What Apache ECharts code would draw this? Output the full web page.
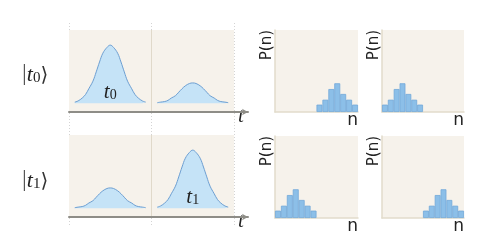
<!DOCTYPE html>
<html>
<head>
<meta charset="utf-8">
<script src="https://cdn.jsdelivr.net/npm/echarts@6/dist/echarts.min.js"></script>
<style>html,body{margin:0;padding:0;background:#fff}#c{width:498px;height:250px}</style>
</head>
<body>
<div id="c"></div>
<script>
// ---- data ----
var bins = ['0','1','2','3','4','5','6','7','8','9','10','11','12','13'];
var histTopLeft     = [null,null,null,null,null,null,null,0.09,0.15,0.28,0.35,0.22,0.15,0.09];
var histTopRight    = [0.09,0.15,0.28,0.35,0.22,0.15,0.09,null,null,null,null,null,null,null];
var histBottomLeft  = [0.09,0.15,0.28,0.35,0.22,0.15,0.09,null,null,null,null,null,null,null];
var histBottomRight = [null,null,null,null,null,null,null,0.09,0.15,0.28,0.35,0.22,0.15,0.09];

var tFirst  = [0.07,0.11,0.16,0.2,0.24,0.29,0.33,0.37,0.41,0.46,0.5,0.54,0.59,0.63,0.67,0.71,0.76,0.8,0.84,0.89,0.93];
var tSecond = [1.07,1.11,1.16,1.2,1.24,1.29,1.33,1.37,1.41,1.46,1.5,1.54,1.59,1.63,1.67,1.71,1.76,1.8,1.84,1.89,1.93];
var pulseBig   = [0.02,0.04,0.09,0.15,0.25,0.38,0.54,0.71,0.86,0.96,1.0,0.96,0.86,0.71,0.54,0.38,0.25,0.15,0.09,0.04,0.02];
var pulseSmall = [0.01,0.02,0.03,0.05,0.09,0.13,0.19,0.25,0.30,0.34,0.35,0.34,0.30,0.25,0.19,0.13,0.09,0.05,0.03,0.02,0.01];

var ketLabels = ['0', '1'];
var pulseLabelPos = [[0.5, 0.2], [1.5, 0.2]];

// ---- helpers ----
function pairs(xs, ys){ var out=[]; for (var i=0;i<xs.length;i++) out.push([xs[i], ys[i]]); return out; }
var SERIF = '"Liberation Serif","DejaVu Serif",serif';
var SANS = '"DejaVu Sans",sans-serif';
var BG = '#f6f2eb';
var richT = {
  v:{fontFamily:SERIF, fontWeight:'normal', fontSize:24, color:'#555', verticalAlign:'bottom', lineHeight:26},
  t:{fontFamily:SERIF, fontWeight:'normal', fontStyle:'italic', fontSize:22, color:'#222', verticalAlign:'bottom', lineHeight:24},
  s:{fontFamily:SERIF, fontWeight:'normal', fontSize:15, color:'#222', verticalAlign:'bottom', lineHeight:20},
  b:{fontFamily:'"DejaVu Serif","DejaVu Sans",serif', fontWeight:'normal', fontSize:20, color:'#333', verticalAlign:'bottom', lineHeight:25}
};

var grids = [
  {left:69, top:23, width:165, height:202, show:false},            // guide dotted lines
  {left:69, top:30, width:165, height:82, show:true, backgroundColor:BG, borderWidth:0, z:1},
  {left:69, top:135, width:165, height:82, show:true, backgroundColor:BG, borderWidth:0, z:1},
  {left:69, top:30, width:179, height:82, show:false},
  {left:69, top:135, width:179, height:82, show:false},
  {left:275, top:30, width:83, height:82, show:true, backgroundColor:BG, borderWidth:0},
  {left:382, top:30, width:82, height:82, show:true, backgroundColor:BG, borderWidth:0},
  {left:275, top:136, width:83, height:82, show:true, backgroundColor:BG, borderWidth:0},
  {left:382, top:136, width:82, height:82, show:true, backgroundColor:BG, borderWidth:0}
];

var xAxes = [], yAxes = [];
// guide
xAxes.push({gridIndex:0, type:'value', min:0, max:2, interval:1, axisLine:{show:false}, axisTick:{show:false}, axisLabel:{show:false},
  splitLine:{show:true, showMinLine:true, showMaxLine:true, lineStyle:{color:'#d4d4d4', type:[1,2], width:1}}});
yAxes.push({gridIndex:0, type:'value', show:false});
// panels
for (var p=1;p<=2;p++){
  xAxes.push({gridIndex:p, type:'value', min:0, max:2, interval:1, z:2,
    axisLine:{show:false}, axisTick:{show:false}, axisLabel:{show:false},
    splitLine:{show:true, showMinLine:false, showMaxLine:false, lineStyle:{color:'#e0d9ca', width:1}},
    name:'t', nameLocation:'end', nameGap:4,
    nameTextStyle:{fontFamily:SERIF, fontStyle:'italic', fontSize:21, color:'#222', verticalAlign:'top', align:'left', padding:[3,0,0,0]}});
  yAxes.push({gridIndex:p, type:'value', min:-0.15, max:1.26, show:false});
}
// arrows
for (var a=3;a<=4;a++){
  xAxes.push({gridIndex:a, type:'value', min:0, max:1, z:3,
    axisLine:{show:true, symbol:['none','arrow'], symbolSize:[5,6], lineStyle:{color:'#8e8d87', width:2}},
    axisTick:{show:false}, axisLabel:{show:false}, splitLine:{show:false}});
  yAxes.push({gridIndex:a, type:'value', show:false});
}
// histograms
for (var h=5;h<=8;h++){
  xAxes.push({gridIndex:h, type:'category', data:bins, boundaryGap:true,
    axisLine:{show:true, lineStyle:{color:'#e2dbcb', width:1.5}}, axisTick:{show:false}, axisLabel:{show:false},
    name:'n', nameLocation:'end', nameGap:0,
    nameTextStyle:{fontFamily:SANS, fontSize:17, color:'#222', align:'right', verticalAlign:'top', padding:[0,0,0,0]}});
  yAxes.push({gridIndex:h, type:'value', min:0, max:1,
    axisLine:{show:true, lineStyle:{color:'#e2dbcb', width:1.5}}, axisTick:{show:false}, axisLabel:{show:false}, splitLine:{show:false},
    name:'P(n)', nameLocation:'end', nameGap:0, nameRotate:90,
    nameTextStyle:{fontFamily:SANS, fontSize:15, color:'#222', align:'right', verticalAlign:'bottom', padding:[0,0,0,0]}});
}

function pulse(axis, xs, ys, labelIdx){
  var s = {type:'line', xAxisIndex:axis, yAxisIndex:axis, data:pairs(xs, ys), smooth:0.4, symbol:'none', z:2,
    lineStyle:{color:'#6d9fd2', width:1}, areaStyle:{color:'#c5e3f7', opacity:1}};
  if (labelIdx !== undefined){
    s.markPoint = {symbol:'circle', symbolSize:1, itemStyle:{color:'rgba(0,0,0,0)'}, silent:true,
      data:[{coord:pulseLabelPos[labelIdx],
        label:{show:true, position:'inside', formatter:'{t|t}{s|' + ketLabels[labelIdx] + '}', rich:{
          t:{fontFamily:SERIF, fontStyle:'italic', fontSize:21, color:'#222', verticalAlign:'bottom', lineHeight:22},
          s:{fontFamily:SERIF, fontSize:14, color:'#222', verticalAlign:'bottom', lineHeight:18}}}}]};
  }
  return s;
}
function hist(axis, vals){
  return {type:'bar', xAxisIndex:axis, yAxisIndex:axis, data:vals, barCategoryGap:'0%',
    itemStyle:{color:'#8cbfe8', borderColor:'#72a8d9', borderWidth:0.8}};
}

var series = [
  pulse(1, tFirst, pulseBig, 0),
  pulse(1, tSecond, pulseSmall),
  pulse(2, tFirst, pulseSmall),
  pulse(2, tSecond, pulseBig, 1),
  hist(5, histTopLeft), hist(6, histTopRight), hist(7, histBottomLeft), hist(8, histBottomRight)
];

var titles = [
  {text:'{v||}{t|t}{s|' + ketLabels[0] + '}{b|⟩}', left:17, top:55, textStyle:{fontWeight:'normal', fontFamily:SERIF, rich:richT}},
  {text:'{v||}{t|t}{s|' + ketLabels[1] + '}{b|⟩}', left:17, top:161, textStyle:{fontWeight:'normal', fontFamily:SERIF, rich:richT}}
];

var chart = echarts.init(document.getElementById('c'), null, {renderer:'canvas'});
chart.setOption({animation:false, backgroundColor:'#ffffff', title:titles, grid:grids, xAxis:xAxes, yAxis:yAxes, series:series});
</script>
</body>
</html>
